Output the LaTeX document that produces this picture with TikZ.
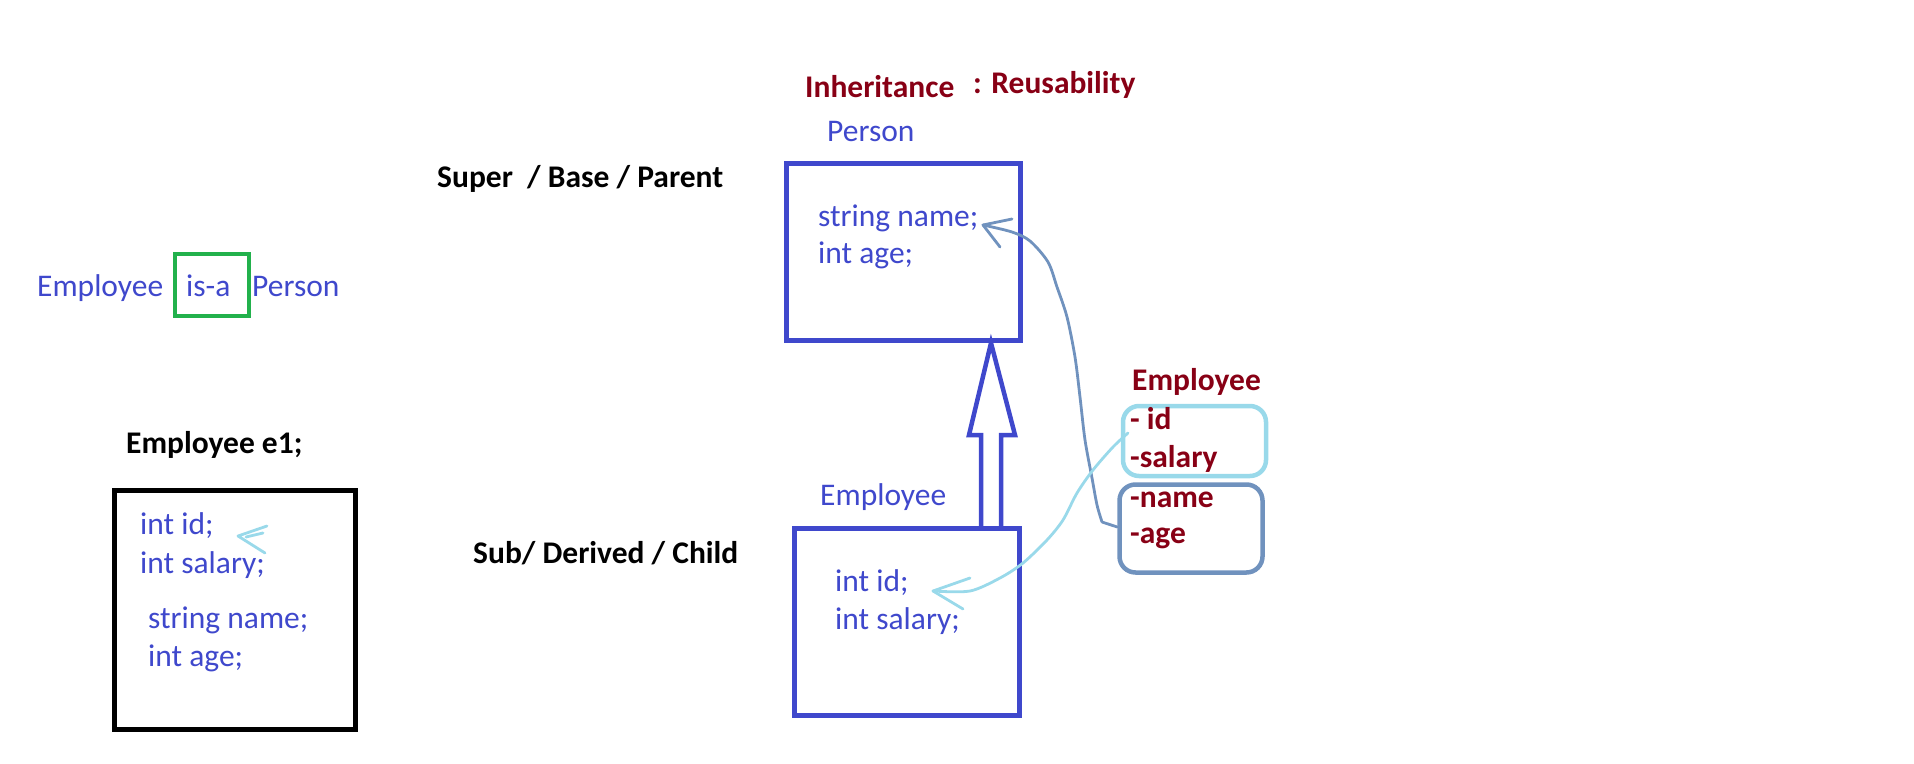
\documentclass[tikz,border=0pt]{standalone}
\usepackage{fontspec}
\setmainfont{Carlito}
\usetikzlibrary{calc}
\definecolor{ind}{HTML}{3F48CC}
\definecolor{dred}{HTML}{880015}
\definecolor{grn}{HTML}{22B14C}
\definecolor{turq}{HTML}{99D9EA}
\definecolor{steel}{HTML}{7092BE}
\begin{document}
\begin{tikzpicture}[x=1pt,y=-1pt,
  txt/.style={font=\fontsize{31.5}{37}\selectfont, inner sep=0pt, anchor=base west},
  bluetxt/.style={txt, text=ind},
  boldtxt/.style={txt, font=\fontsize{31.5}{37}\selectfont\bfseries},
  redtxt/.style={boldtxt, text=dred},
  blktxt/.style={boldtxt, text=black},
  box/.style={draw, line width=5pt, inner sep=0pt, fill=none},
  classbox/.style={box, draw=ind},
  rbox/.style={box, line width=4.5pt, rounded corners=16pt},
  blockarrow/.style={draw=ind, line width=4.5pt, line join=miter},
  hand/.style={line width=2.8pt, line cap=round, line join=round}
]
\useasboundingbox (0,0) rectangle (1914,763);

% title
\node[redtxt] (inh) at (805,97) {Inheritance};
\node[redtxt] (reu) at (973,93) {: Reusability};

% is-a line
\node[bluetxt] (isemp) at (37,296) {Employee};
\node[box, draw=grn, line width=4.5pt, minimum width=74pt, minimum height=62pt] (isabox) at (212,285) {};
\node[bluetxt] (isa) at (186,296) {is-a};
\node[bluetxt] (isper) at (252,296) {Person};

% left object
\node[blktxt] (e1) at (126,453) {Employee e1;};
\node[box, draw=black, minimum width=241pt, minimum height=239pt] (objbox) at (235,610) {};
\node[bluetxt] (o1) at (140,534) {int id;};
\node[bluetxt] (o2) at (140,573) {int salary;};
\node[bluetxt] (o3) at (148,628) {string name;};
\node[bluetxt] (o4) at (148,666) {int age;};
\draw[turq, hand] (267,526) -- (238,536) -- (265,553);
\draw[turq, hand] (263,533) -- (246,537);

% labels
\node[blktxt] (super) at (437,187) {Super \ / Base / Parent};
\node[blktxt] (sub) at (473,563) {Sub/ Derived / Child};

% Person class
\node[bluetxt] (plabel) at (827,141) {Person};
\node[classbox, minimum width=234pt, minimum height=177pt] (person) at (903.5,252) {};
\node[bluetxt] (pname) at (818,226) {string name;};
\node[bluetxt] (page) at (818,263) {int age;};

% Employee class
\node[bluetxt] (clabel) at (820,505) {Employee};
\node[classbox, minimum width=225pt, minimum height=187pt] (child) at (907,622) {};
\node[bluetxt] (cid) at (835,591) {int id;};
\node[bluetxt] (csal) at (835,629) {int salary;};

% inheritance block arrow
\draw[blockarrow] (981,0 |- child.north) -- (981,435) -- (969,435) -- (991,0 |- person.south)
  -- (1015,435) -- (1001,435) -- (1001,0 |- child.north);

% member lists
\node[redtxt] (rlabel) at (1132,390) {Employee};
\node[rbox, draw=turq, minimum width=143pt, minimum height=70pt] (own) at (1194.5,441) {};
\node[rbox, draw=steel, minimum width=143pt, minimum height=88pt] (inherited) at (1191,528.5) {};
\node[redtxt] (mid) at (1130,429) {- id};
\node[redtxt] (msal) at (1130,467) {-salary};
\node[redtxt] (mname) at (1130,507) {-name};
\node[redtxt] (mage) at (1130,543) {-age};

% hand-drawn connectors
\coordinate (stip) at (983,225);
\coordinate (ttip) at (933,591);
\draw[steel, hand] (inherited.west |- 0,527) -- (1102,522)
  plot[smooth, tension=0.5] coordinates {(1102,522) (1097,505) (1092,478) (1085,440) (1080,397) (1075,357) (1067,317) (1057,287) (1048,262) (1030,241) (1012,232) (983,225)};
\draw[steel, hand] (1012,219) -- (stip) -- (1000,247);
\draw[turq, hand] plot[smooth, tension=0.5] coordinates {(1128,433) (1113,447) (1093,470) (1077,493) (1063,520) (1047,540) (1023,563) (1000,578) (970,591) (933,591)};
\draw[turq, hand] (970,578) -- (ttip) -- (963,609);
\end{tikzpicture}
\end{document}
